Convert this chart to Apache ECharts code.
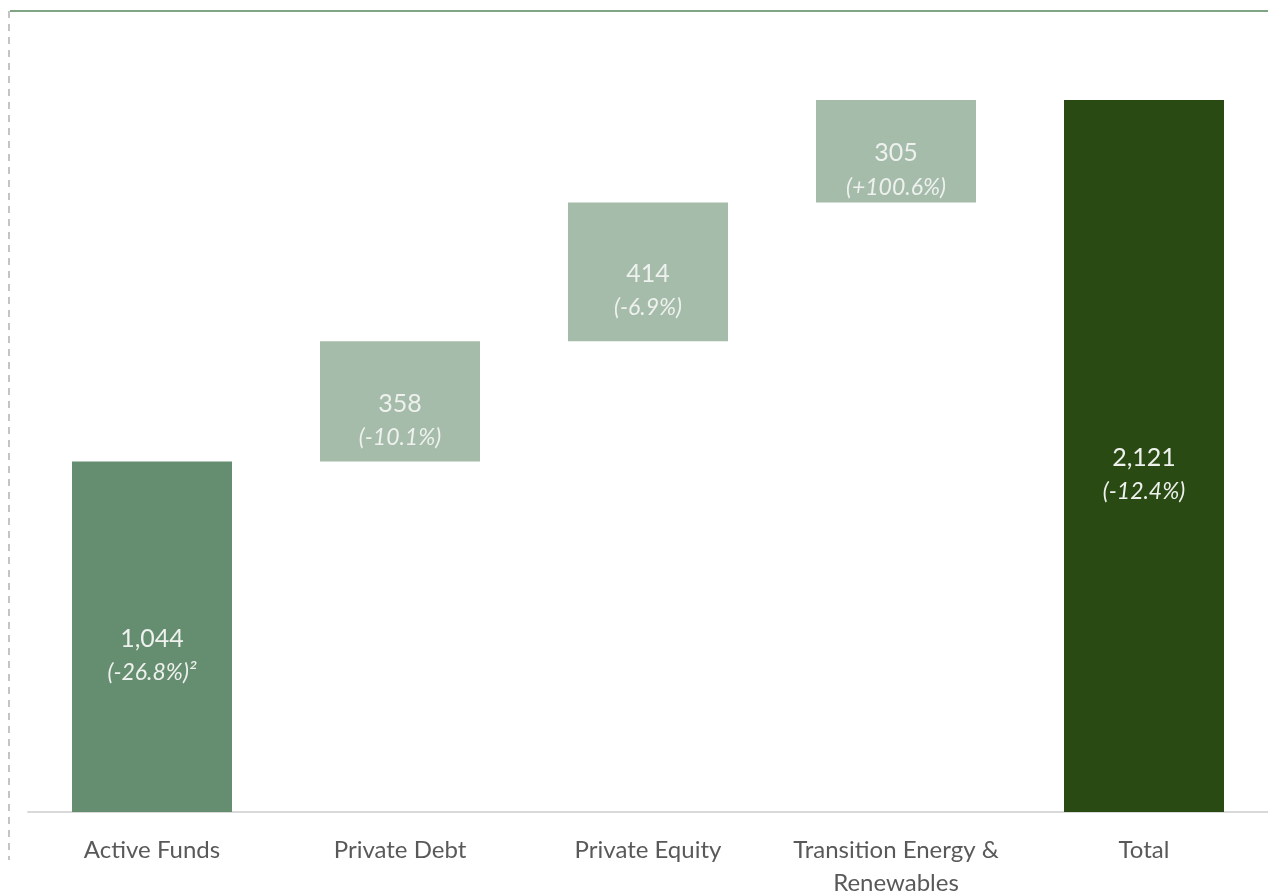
<!DOCTYPE html>
<html>
<head>
<meta charset="utf-8">
<script src="https://cdn.jsdelivr.net/npm/echarts@6/dist/echarts.min.js"></script>
<style>
  html, body { margin: 0; padding: 0; background: #fff; }
  #chart { width: 1268px; height: 894px; }
</style>
</head>
<body>
<div id="chart"></div>
<script>
const categories = ['Active Funds', 'Private Debt', 'Private Equity', 'Transition Energy &\nRenewables', 'Total'];
const values = [1044, 358, 414, 305, 2121];
const changes = ['(-26.8%)²', '(-10.1%)', '(-6.9%)', '(+100.6%)', '(-12.4%)'];
const barColors = ['#658d6f', '#a5bcaa', '#a5bcaa', '#a5bcaa', '#294a12'];

// invisible base for the floating steps, total sits on zero
const bases = [];
let running = 0;
values.forEach((v, i) => {
    const isEnd = i === 0 || i === values.length - 1;
    bases.push(isEnd ? 0 : running);
    if (i < values.length - 1) running += v;
});

const chart = echarts.init(document.getElementById('chart'));

const option = {
    animation: false,
    grid: { left: 28, right: 0, top: 100, bottom: 82, outerBoundsMode: 'none', containLabel: false },
    xAxis: {
        type: 'category',
        data: categories,
        axisTick: { show: false },
        axisLine: { lineStyle: { color: '#d9d9d9', width: 2 } },
        axisLabel: {
            color: '#595959',
            fontSize: 24,
            fontFamily: 'Lato',
            margin: 22,
            lineHeight: 33,
            interval: 0
        }
    },
    yAxis: {
        type: 'value',
        min: 0,
        max: 2121,
        show: false,
        splitLine: { show: false }
    },
    series: [
        {
            name: 'base',
            type: 'bar',
            stack: 'wf',
            barWidth: 160,
            itemStyle: { color: 'transparent' },
            silent: true,
            data: bases
        },
        {
            name: 'value',
            type: 'bar',
            stack: 'wf',
            barWidth: 160,
            data: values.map((v, i) => ({ value: v, itemStyle: { color: barColors[i] } })),
            label: {
                show: true,
                position: 'inside',
                offset: [0, 18],
                formatter: p => '{v|' + echarts.format.addCommas(values[p.dataIndex]) + '}\n{p|' + changes[p.dataIndex] + '}',
                rich: {
                    v: { color: '#eef1ee', fontSize: 25, fontFamily: 'Lato', lineHeight: 36 },
                    p: { color: '#eef1ee', fontSize: 23, fontFamily: 'Lato', fontStyle: 'italic', lineHeight: 32 }
                }
            }
        }
    ],
    graphic: [
        {
            type: 'line',
            shape: { x1: 10, y1: 11, x2: 1268, y2: 11 },
            style: { stroke: '#7fa585', lineWidth: 2 }
        },
        {
            type: 'line',
            shape: { x1: 9, y1: 11, x2: 9, y2: 860 },
            style: { stroke: '#c4c4c4', lineWidth: 2, lineDash: [7, 6] }
        }
    ]
};

chart.setOption(option);
</script>
</body>
</html>
